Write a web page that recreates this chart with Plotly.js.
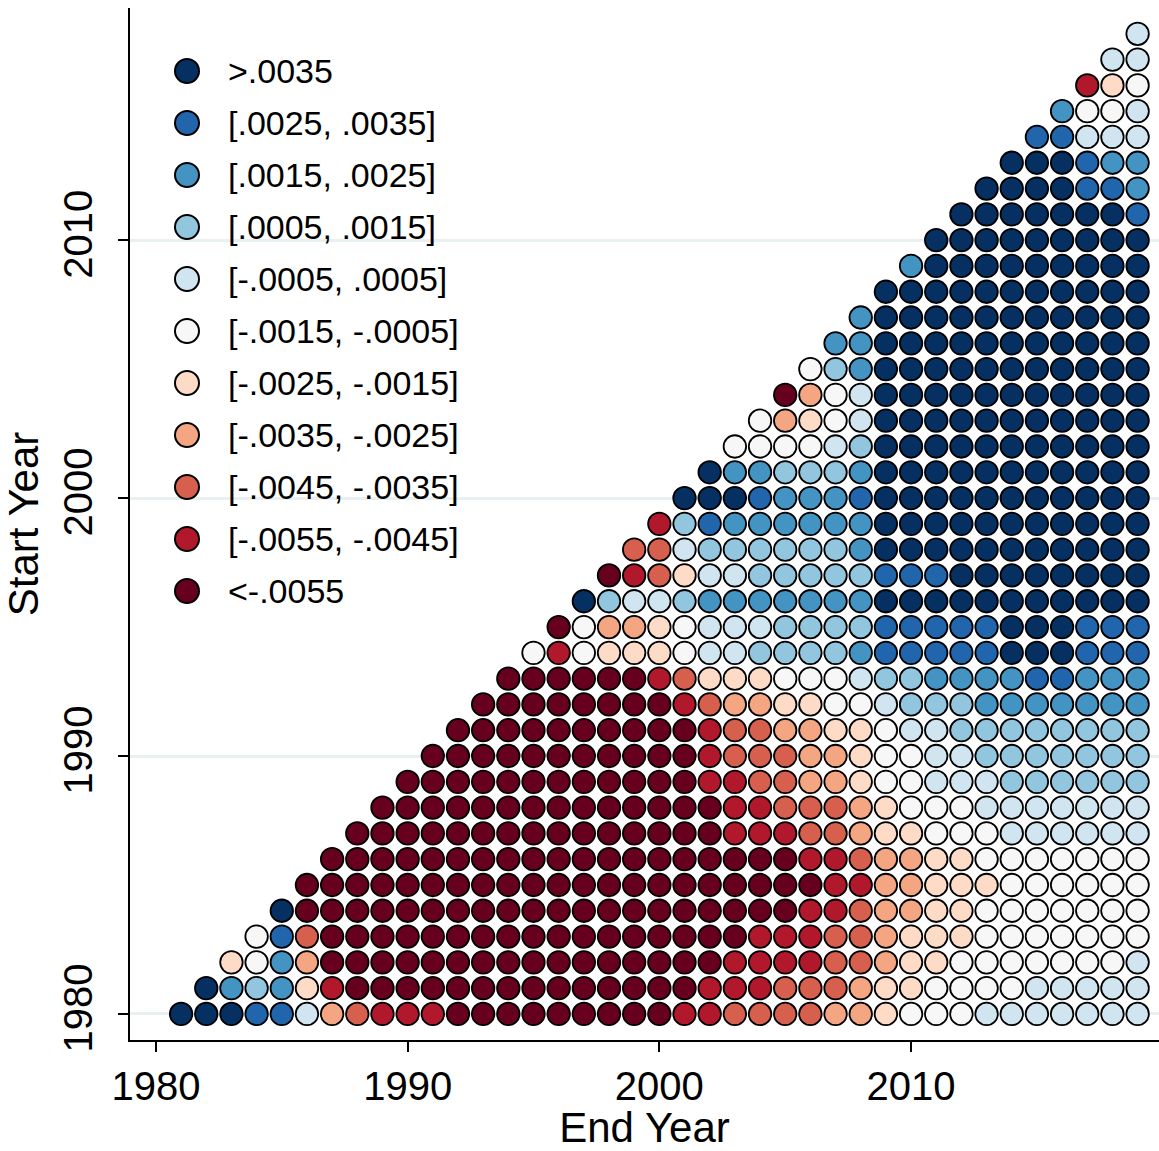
<!DOCTYPE html>
<html>
<head>
<meta charset="utf-8">
<script src="https://cdn.plot.ly/plotly-3.0.1.min.js"></script>
<style>html,body{margin:0;padding:0;background:#fff;}#chart{width:1159px;height:1151px;}</style>
</head>
<body>
<div id="chart"></div>
<script>
// Start years (rows); each row lists categories for end years startYear+1 .. 2019
const startYears = [1980,1981,1982,1983,1984,1985,1986,1987,1988,1989,
  1990,1991,1992,1993,1994,1995,1996,1997,1998,1999,
  2000,2001,2002,2003,2004,2005,2006,2007,2008,2009,
  2010,2011,2012,2013,2014,2015,2016,2017,2018];

// Category codes: 0 = >.0035 ... A = <-.0055
const rowCodes = [
  "0001147899" + "9AAAAAAAAA" + "9988887765" + "554444444",
  "023269AAA" + "AAAAAAAAAA" + "A999888766" + "555544444",
  "6527AAAA" + "AAAAAAAAAA" + "AA99998876" + "655555554",
  "518AAAA" + "AAAAAAAAAA" + "AAA9998876" + "665555555",
  "0AAAAA" + "AAAAAAAAAA" + "AAAAA99877" + "665555555",
  "AAAAA" + "AAAAAAAAAA" + "AAAAAA9977" + "666555555",
  "AAAA" + "AAAAAAAAAA" + "AAAAA99877" + "665555555",
  "AAA" + "AAAAAAAAAA" + "AA99988766" + "555444444",
  "AA" + "AAAAAAAAAA" + "AA99888765" + "554444444",
  "A" + "AAAAAAAAAA" + "A998877655" + "444333333",
  "AAAAAAAAAA" + "A988877655" + "443333333",
  "AAAAAAAAA" + "A988776654" + "433333333",
  "AAAAAAAA" + "9877665543" + "332222222",
  "AAAAAA9" + "8666555433" + "222211222",
  "595666" + "5443333211" + "111000111",
  "A5776" + "5444333311" + "111000111",
  "0344" + "3222222200" + "000000000",
  "A98" + "6443333311" + "100000000",
  "88" + "4333333200" + "000000000",
  "9" + "3122222200" + "000000000",
  "0001222100" + "000000000",
  "022333200" + "000000000",
  "55554300" + "000000000",
  "5765400" + "000000000",
  "A75400" + "000000000",
  "53200" + "000000000",
  "2200" + "000000000",
  "200" + "000000000",
  "00" + "000000000",
  "2" + "000000000",
  "000000000",
  "00000001",
  "0000112",
  "000122",
  "11444",
  "2554",
  "965",
  "44",
  "4"
];

const codeKeys = "0123456789A";
const categories = [">.0035", "[.0025, .0035]", "[.0015, .0025]", "[.0005, .0015]",
  "[-.0005, .0005]", "[-.0015, -.0005]", "[-.0025, -.0015]", "[-.0035, -.0025]",
  "[-.0045, -.0035]", "[-.0055, -.0045]", "<-.0055"];
const colors = ["#053061", "#2166ac", "#4393c3", "#92c5de", "#d1e5f0", "#f7f7f7",
  "#fddbc7", "#f4a582", "#d6604d", "#b2182b", "#67001f"];
const tickYears = [1980, 1990, 2000, 2010];

const FONT = "Liberation Sans, Arial, Helvetica, sans-serif";

const traces = categories.map((name, k) => {
  const xs = [], ys = [];
  rowCodes.forEach((row, i) => {
    for (let j = 0; j < row.length; j++) {
      if (codeKeys.indexOf(row[j]) === k) {
        xs.push(startYears[i] + 1 + j);
        ys.push(startYears[i]);
      }
    }
  });
  return {
    type: "scatter", mode: "markers", name: name, x: xs, y: ys,
    showlegend: false, hoverinfo: "skip",
    marker: {size: 22.5, color: colors[k], line: {color: "#000", width: 1.8}}
  };
});

// Custom legend drawn on hidden overlay axes
traces.push({
  type: "scatter", mode: "markers", xaxis: "x2", yaxis: "y2",
  x: categories.map(() => 0), y: categories.map((c, i) => i),
  showlegend: false, hoverinfo: "skip",
  marker: {size: 24, color: colors, line: {color: "#000", width: 2}}
});

const annotations = categories.map((c, i) => ({
  xref: "x2", yref: "y2", x: 39, y: i, text: c, showarrow: false,
  xanchor: "left", yanchor: "middle",
  font: {family: FONT, size: 34, color: "#000"}
}));

const layout = {
  width: 1159, height: 1151,
  margin: {l: 130, r: 0, t: 8, b: 111},
  paper_bgcolor: "#fff", plot_bgcolor: "#fff",
  showlegend: false,
  font: {family: FONT, color: "#000"},
  xaxis: {
    range: [1978.97, 2019.85], tickvals: tickYears, ticktext: tickYears.map(String),
    showline: true, linecolor: "#000", linewidth: 2,
    ticks: "outside", ticklen: 10, tickwidth: 2, tickcolor: "#000",
    showgrid: false, zeroline: false,
    tickfont: {family: FONT, size: 40, color: "#000"},
    title: {text: "End Year", font: {family: FONT, size: 42, color: "#000"}, standoff: 6}
  },
  yaxis: {
    range: [1978.99, 2019.0], tickvals: tickYears, ticktext: tickYears.map(String),
    tickangle: -90,
    showline: true, linecolor: "#000", linewidth: 2,
    ticks: "outside", ticklen: 10, tickwidth: 2, tickcolor: "#000",
    showgrid: true, gridcolor: "#e8f0f2", gridwidth: 3, zeroline: false,
    ticklabelstandoff: 10,
    tickfont: {family: FONT, size: 40, color: "#000"},
    title: {text: "Start Year", font: {family: FONT, size: 42, color: "#000"}, standoff: 12}
  },
  xaxis2: {overlaying: "x", range: [-57, 972], visible: false, fixedrange: true},
  yaxis2: {overlaying: "y", range: [18.635, -1.2115], visible: false, fixedrange: true},
  annotations: annotations
};

Plotly.newPlot("chart", traces, layout, {displayModeBar: false, staticPlot: true});
</script>
</body>
</html>
